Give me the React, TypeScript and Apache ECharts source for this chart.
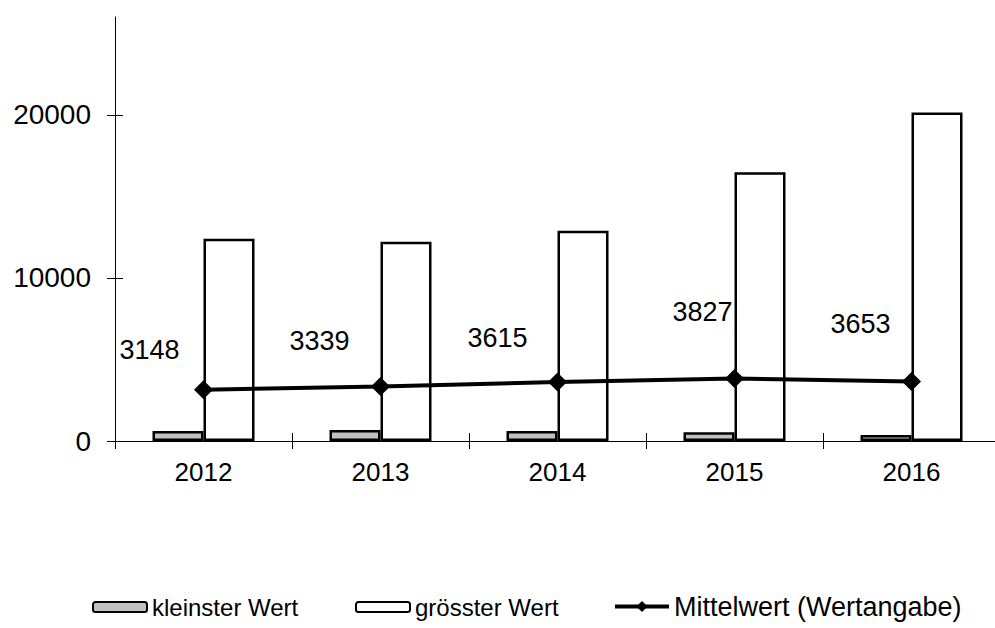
import React, { useEffect, useRef } from "react";
import * as echarts from "echarts";

const categories = ["2012", "2013", "2014", "2015", "2016"];
const minValues = [620, 680, 620, 540, 370];
const maxValues = [12400, 12220, 12900, 16480, 20150];
const meanValues = [3148, 3339, 3615, 3827, 3653];
const yTicks = [0, 10000, 20000];
const seriesNames = ["kleinster Wert", "grösster Wert", "Mittelwert (Wertangabe)"];
const labelOffsets = [
  [-54, -40],
  [-61, -46],
  [-60, -44],
  [-32, -67],
  [-51, -57],
];

const FONT = "Liberation Sans";

export default function App() {
  const ref = useRef<HTMLDivElement>(null);
  useEffect(() => {
    if (!ref.current) return;
    const chart = echarts.init(ref.current, null, { renderer: "svg" });
    const yCommon = {
      type: "value" as const,
      min: 0,
      max: 26000,
      interval: 10000,
      splitLine: { show: false },
    };
    const legendCommon = {
      top: 595,
      padding: 0,
      itemWidth: 54,
      itemHeight: 10,
      itemGap: 0,
    };
    chart.setOption({
      animation: false,
      backgroundColor: "#ffffff",
      textStyle: { fontFamily: FONT },
      grid: { left: 115, top: 17, width: 885, height: 424, containLabel: false },
      xAxis: [
        {
          type: "category",
          data: categories,
          boundaryGap: true,
          axisLine: { show: true, lineStyle: { color: "#000", width: 1 } },
          axisTick: { show: false },
          axisLabel: { color: "#000", fontSize: 26, fontFamily: FONT, margin: 18 },
        },
        {
          type: "category",
          data: categories,
          position: "bottom",
          offset: -8,
          boundaryGap: true,
          axisLine: { show: false },
          axisTick: { show: true, inside: false, length: 16, lineStyle: { color: "#000", width: 1 } },
          axisLabel: { show: false },
        },
      ],
      yAxis: [
        {
          ...yCommon,
          axisLine: { show: true, lineStyle: { color: "#000", width: 1 } },
          axisTick: { show: false },
          axisLabel: {
            color: "#000",
            fontSize: 28,
            fontFamily: FONT,
            margin: 24,
            customValues: yTicks,
            formatter: (v: number) => String(v),
          },
        },
        {
          ...yCommon,
          position: "left",
          offset: -8,
          axisLine: { show: false },
          axisTick: { show: true, inside: false, length: 16, customValues: yTicks, lineStyle: { color: "#000", width: 1 } },
          axisLabel: { show: false },
        },
      ],
      legend: [
        {
          ...legendCommon,
          data: [seriesNames[0]],
          left: 92,
          textStyle: { fontSize: 24, fontFamily: FONT, color: "#000" },
        },
        {
          ...legendCommon,
          data: [seriesNames[1]],
          left: 355,
          textStyle: { fontSize: 24, fontFamily: FONT, color: "#000" },
        },
        {
          ...legendCommon,
          data: [seriesNames[2]],
          left: 613,
          top: 593,
          itemHeight: 14,
          lineStyle: { width: 4, color: "#000" },
          textStyle: { fontSize: 27, fontFamily: FONT, color: "#000" },
        },
      ],
      series: [
        {
          name: seriesNames[0],
          type: "bar",
          data: minValues,
          barWidth: 51,
          barGap: "0%",
          itemStyle: { color: "#c0c0c0", borderColor: "#000", borderWidth: 2.5 },
        },
        {
          name: seriesNames[1],
          type: "bar",
          data: maxValues,
          barWidth: 51,
          barGap: "0%",
          itemStyle: { color: "#ffffff", borderColor: "#000", borderWidth: 2.5 },
        },
        {
          name: seriesNames[2],
          type: "line",
          data: meanValues.map((v, i) => ({
            value: v,
            label: { offset: labelOffsets[i] },
          })),
          symbol: "diamond",
          symbolSize: 19,
          lineStyle: { color: "#000", width: 4 },
          itemStyle: { color: "#000" },
          label: {
            show: true,
            position: "inside",
            color: "#000",
            fontSize: 27,
            fontFamily: FONT,
          },
          z: 5,
        },
      ],
    });
    return () => chart.dispose();
  }, []);
  return (
    <div style={{ position: "fixed", left: 0, top: 0, width: 995, height: 628, overflow: "hidden", background: "#fff" }}>
      <div ref={ref} style={{ position: "absolute", left: 0, top: 0, width: 1010, height: 628 }} />
    </div>
  );
}
